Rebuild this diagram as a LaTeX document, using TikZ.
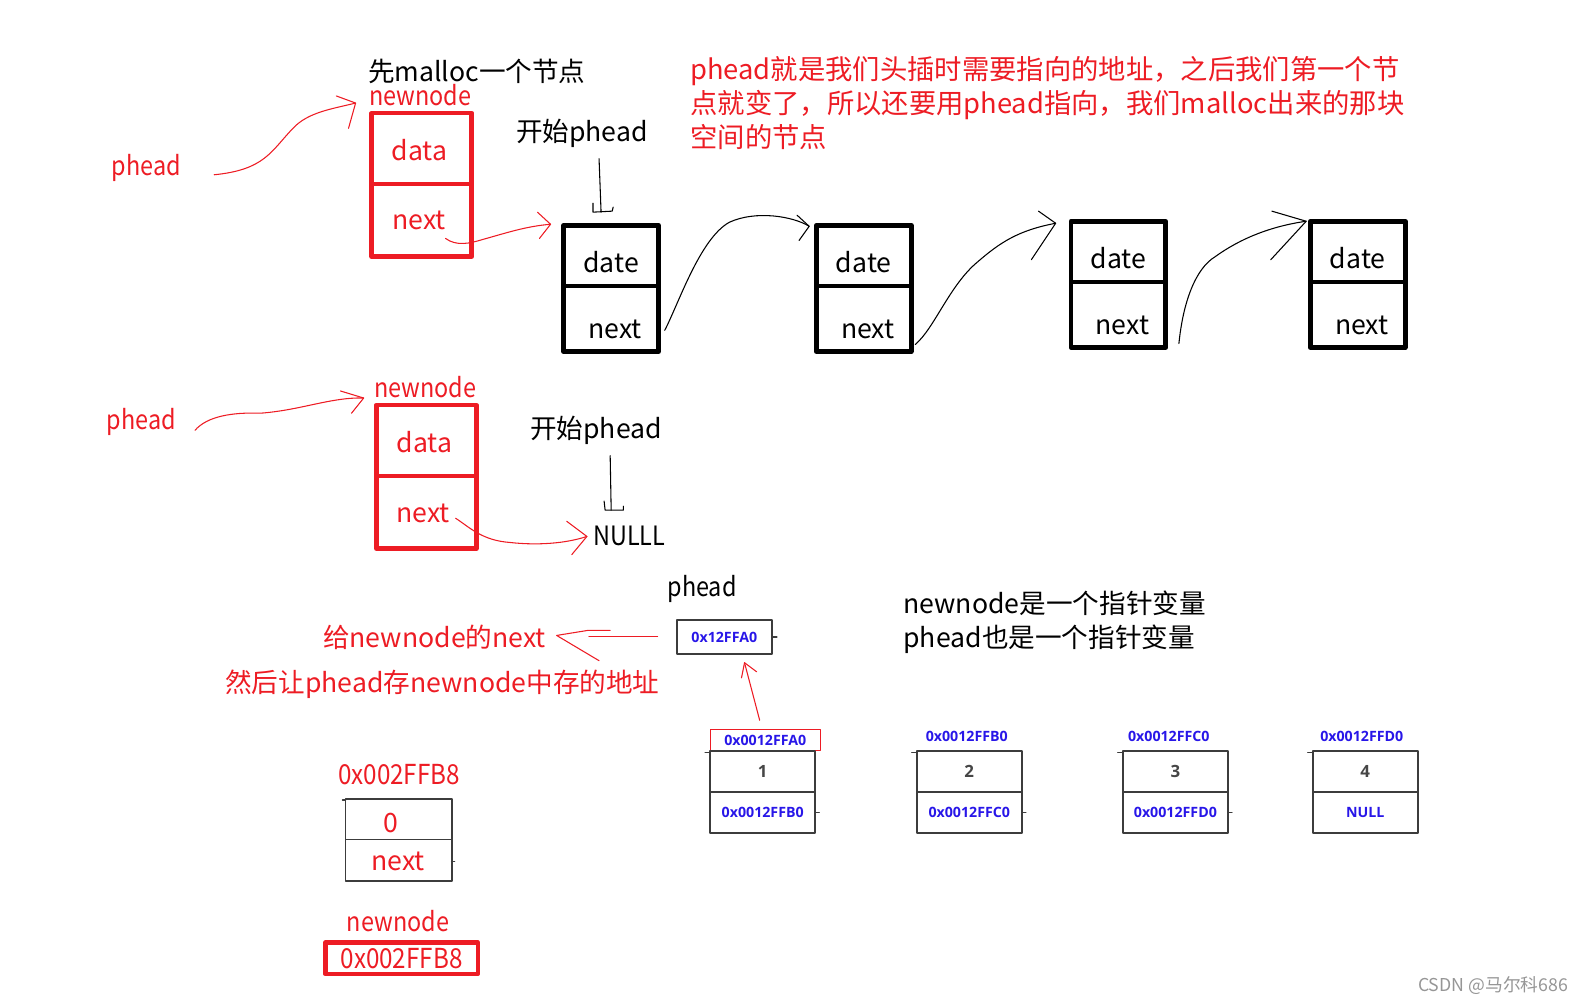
\documentclass[tikz,border=0pt]{standalone}
\usepackage{fontspec}
\setmainfont{Noto Sans CJK SC}
\newfontfamily\narrowfont[FakeStretch=0.88]{Noto Sans CJK SC}
\newfontfamily\hexfont{Open Sans}
\usetikzlibrary{positioning}
\definecolor{pred}{RGB}{237,28,36}
\definecolor{hexblue}{RGB}{40,22,232}
\definecolor{boxgray}{RGB}{60,60,60}
\definecolor{digitgray}{RGB}{70,70,70}
\definecolor{wmgray}{RGB}{150,150,150}
\begin{document}
\begin{tikzpicture}[x=0.02cm, y=-0.02cm, line join=round, line cap=round,
	txt/.style={font=\fontsize{15}{18}\selectfont, inner sep=0pt},
	rtxt/.style={txt, text=pred},
	ntxt/.style={font=\narrowfont\fontsize{15}{18}\selectfont, inner sep=0pt},
	rntxt/.style={ntxt, text=pred},
	note/.style={font=\fontsize{15.4}{19.3}\selectfont, inner sep=0pt, align=left, anchor=west},
	cellb/.style={draw=black, line width=2.6pt, minimum width=1.88cm, inner sep=0pt, outer sep=0pt},
	cellr/.style={cellb, draw=pred, minimum width=1.98cm},
	cellg/.style={draw=boxgray, line width=1.1pt, minimum width=2.08cm, minimum height=0.82cm, inner sep=0pt, outer sep=0pt},
	hex/.style={font=\hexfont\bfseries\fontsize{8}{9}\selectfont, text=hexblue},
	digit/.style={font=\hexfont\bfseries\fontsize{9.5}{11}\selectfont, text=digitgray},
	hand/.style={line width=0.6pt},
	rhand/.style={hand, draw=pred},
	tick/.style={draw=boxgray, line width=0.8pt}]
	\useasboundingbox (0,0) rectangle (1568,995);
	\node[txt] (malloc) at (472,71) {先malloc一个节点};
	\node[rntxt] (nnl1) at (416,94) {newnode};
	\node[rntxt] (ph1) at (145,166) {phead};
	\node[txt] (start1) at (576,132) {开始phead};
	\node[note, text=pred] (insnote) at (683,102) {phead就是我们头插时需要指向的地址，之后我们第一个节\\点就变了，所以还要用phead指向，我们malloc出来的那块\\空间的节点};
	\node[cellr, minimum height=1.4cm] (nd1) at (417.5,147) {};
	\node[cellr, minimum height=1.44cm, below=0pt of nd1] (nn1) {};
	\node[rtxt] (nd1t) at (415,149) {data};
	\node[rtxt] (nn1t) at (415,218) {next};
	\foreach \nm/\x/\y in {A/605/253, B/855/253, C/1107/249, D/1344/249}{
		\node[cellb, minimum height=1.2cm] (top\nm) at (\x,\y) {};
		\node[cellb, minimum height=1.3cm, below=0pt of top\nm] (bot\nm) {};
		\node[txt, yshift=-0.12cm] (top\nm t) at (top\nm) {date};
		\node[txt, yshift=-0.21cm, xshift=0.08cm] (bot\nm t) at (bot\nm) {next};
	}
	\coordinate (ph1s) at (212,173);
	\coordinate (ph1e) at (352,102);
	\draw[rhand] (ph1s) .. controls (262,168) and (268,150) .. (290,127) .. controls (305,111) and (328,108) .. (ph1e);
	\draw[rhand] (ph1e) +(-19,-7) -- (ph1e) -- +(-7,25);
	\coordinate (nx1) at (441,236);
	\coordinate (tipA) at (545,222);
	\draw[rhand] (nx1) .. controls (452,244) and (465,241) .. (478,237) .. controls (500,231) and (520,224) .. (tipA);
	\draw[rhand] (tipA) +(-13,-12) -- (tipA) -- +(-11,14);
	\coordinate (st1) at (593,157);
	\coordinate (st1e) at (595,210);
	\draw[hand] (st1) -- (st1e);
	\draw[hand] (st1e) +(-8,-9) -- +(-8,0) -- +(11,-1) -- +(12,-5);
	\coordinate (ab1) at (658,327);
	\coordinate (ab2) at (801,224);
	\draw[hand] (ab1) .. controls (672,300) and (693,236) .. (722,220) .. controls (748,208) and (785,214) .. (ab2);
	\draw[hand] (ab2) +(-12,-11) -- (ab2) -- +(-10,14);
	\coordinate (bc1) at (906,341);
	\coordinate (bc2) at (1045,221);
	\draw[hand] (bc1) .. controls (925,325) and (940,282) .. (968,259) .. controls (990,240) and (1008,228) .. (bc2);
	\draw[hand] (bc2) +(-17,-12) -- (bc2) -- +(-24,36);
	\coordinate (cd1) at (1167,340);
	\coordinate (cd2) at (1293,219);
	\draw[hand] (cd1) .. controls (1171,300) and (1183,266) .. (1203,254) .. controls (1228,236) and (1258,224) .. (cd2);
	\draw[hand] (cd2) +(-34,-10) -- (cd2) -- +(-35,38);
	\node[rntxt] (nnl2) at (421,383) {newnode};
	\node[rntxt] (ph2) at (140,418) {phead};
	\node[txt] (start2) at (590,426) {开始phead};
	\node[ntxt, anchor=west] (nulll) at (587,530) {NULLL};
	\node[cellr, minimum height=1.4cm] (nd2) at (422,436) {};
	\node[cellr, minimum height=1.44cm, below=0pt of nd2] (nn2) {};
	\node[rtxt] (nd2t) at (420,438) {data};
	\node[rtxt] (nn2t) at (419,508) {next};
	\coordinate (ph2s) at (193,426);
	\coordinate (ph2e) at (360,394);
	\draw[rhand] (ph2s) .. controls (205,412) and (230,408) .. (258,409) .. controls (298,406) and (328,393) .. (ph2e);
	\draw[rhand] (ph2e) +(-23,-7) -- (ph2e) -- +(-12,15);
	\coordinate (nx2) at (451,513);
	\coordinate (nul) at (581,531);
	\draw[rhand] (nx2) .. controls (465,522) and (477,535) .. (505,537) .. controls (532,540) and (560,538) .. (nul);
	\draw[rhand] (nul) +(-20,-15) -- (nul) -- +(-15,18);
	\coordinate (st2) at (604,451);
	\coordinate (st2e) at (605,505);
	\draw[hand] (st2) -- (st2e);
	\draw[hand] (st2e) +(-7,-9) -- +(-6,0) -- +(12,0) -- +(12,-4);
	\node[ntxt] (phl) at (695,583) {phead};
	\node[cellg, hex, minimum width=1.88cm, minimum height=0.66cm] (pbox) at (717,630.5) {0x12FFA0};
	\draw[tick] (pbox.east) -- +(5,0);
	\node[rtxt] (give) at (430,631) {给newnode的next};
	\node[rtxt] (then) at (438,677) {然后让phead存newnode中存的地址};
	\coordinate (gv1) at (651,630);
	\coordinate (gv2) at (551,629);
	\draw[rhand] (gv1) -- +(-68,0);
	\draw[rhand] (gv2) +(53,-5) -- +(31,-5) -- (gv2) -- +(42,25);
	\node[note, font=\fontsize{15}{19.3}\selectfont] (ptrnote) at (894,616) {newnode是一个指针变量\\phead也是一个指针变量};
	\node[draw=pred, line width=0.6pt, minimum width=2.18cm, minimum height=0.42cm, inner sep=0pt, hex] (hdr1) at (757.5,732.5) {0x0012FFA0};
	\foreach \nm/\x/\v/\p in {1/755/1/0x0012FFB0, 2/959.5/2/0x0012FFC0, 3/1163.5/3/0x0012FFD0, 4/1351.5/4/NULL}{
		\node[cellg, digit] (val\nm) at (\x,763.5) {\v};
		\node[cellg, hex, below=0pt of val\nm] (ptr\nm) {\p};
		\draw[tick] (val\nm.north west) ++(0,2) -- +(-5,0);
	}
	\foreach \nm/\x/\a in {2/957/0x0012FFB0, 3/1157/0x0012FFC0, 4/1348/0x0012FFD0}{
		\node[hex] (adr\nm) at (\x,729) {\a};
	}
	\foreach \nm in {1,2,3}{
		\draw[tick] (ptr\nm.east) -- +(4,0);
	}
	\coordinate (up1) at (752,713);
	\coordinate (up2) at (737,656);
	\draw[rhand] (up1) -- (up2);
	\draw[rhand] (up2) +(-3,15) -- (up2) -- +(12,9);
	\node[rntxt, font=\narrowfont\fontsize{15.5}{18}\selectfont] (addr) at (395,767) {0x002FFB8};
	\node[cellg, minimum width=2.1cm, minimum height=0.8cm] (mval) at (394.5,811) {};
	\node[cellg, minimum width=2.1cm, minimum height=0.82cm, below=0pt of mval] (mnext) {};
	\node[rtxt] (mvalt) at (387,815) {0};
	\node[rtxt] (mnextt) at (394,853) {next};
	\draw[tick] (mval.north west) ++(0,1) -- +(-3,0);
	\draw[tick] (mnext.east) ++(0,1) -- +(3,0);
	\node[rntxt] (nnl3) at (394,912) {newnode};
	\node[draw=pred, line width=2.6pt, minimum width=3.02cm, minimum height=0.62cm, rntxt, font=\narrowfont\fontsize{15.5}{18}\selectfont, inner sep=0pt] (nbox) at (397.5,948.5) {0x002FFB8};
	\node[font=\fontsize{10}{12}\selectfont, text=wmgray] (wm) at (1478,976) {CSDN @马尔科686};
\end{tikzpicture}
\end{document}
